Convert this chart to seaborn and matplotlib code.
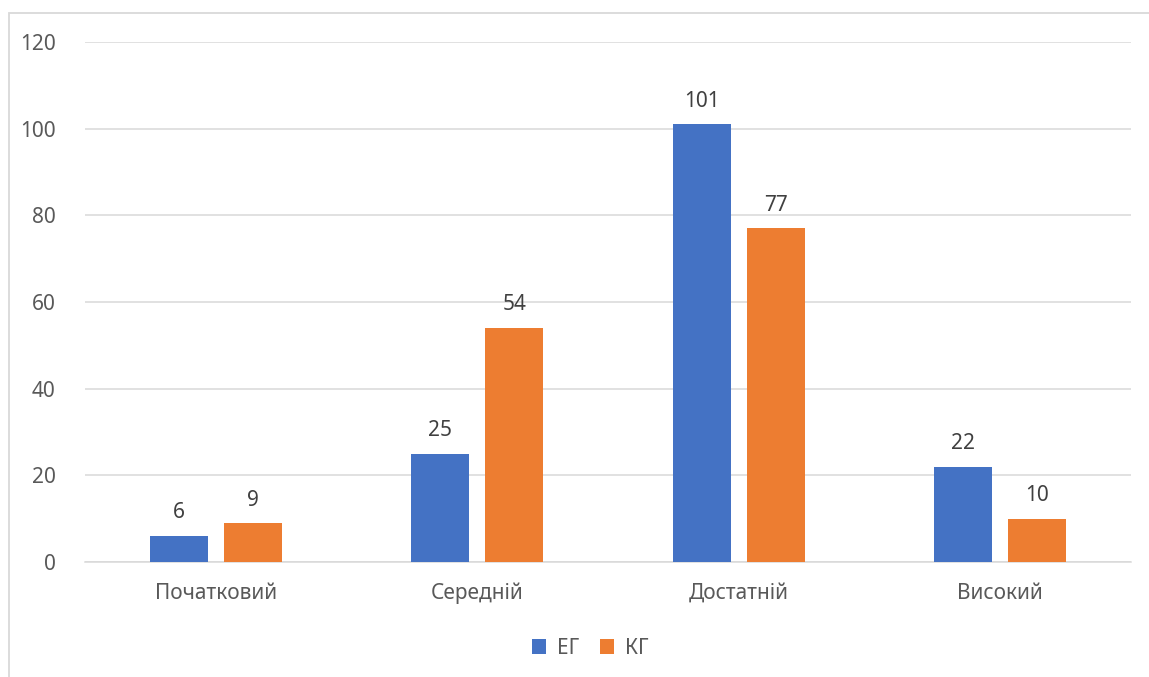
import matplotlib
matplotlib.use("Agg")
import matplotlib.pyplot as plt
from matplotlib.patches import Rectangle
import seaborn as sns
import pandas as pd

categories = ["Початковий", "Середній", "Достатній", "Високий"]
groups = ["ЕГ", "КГ"]
eg_values = [6, 25, 101, 22]
kg_values = [9, 54, 77, 10]
y_ticks = [0, 20, 40, 60, 80, 100, 120]

df = pd.DataFrame({
    "level": categories * 2,
    "group": [groups[0]] * len(categories) + [groups[1]] * len(categories),
    "value": eg_values + kg_values,
})

sns.set_theme(style="white")
plt.rcParams["font.family"] = ["Noto Sans", "DejaVu Sans"]

fig = plt.figure(figsize=(11.49, 6.77), dpi=100)
fig.patch.set_facecolor("white")
ax = fig.add_axes([85 / 1149, 115 / 677, 1046 / 1149, 520 / 677])

palette = {"ЕГ": "#4472C4", "КГ": "#ED7D31"}
sns.barplot(data=df, x="level", y="value", hue="group", order=categories,
            hue_order=groups, palette=palette, width=0.566, gap=0.215,
            saturation=1, linewidth=0, ax=ax, zorder=3)

for container in ax.containers:
    ax.bar_label(container, padding=9, fontsize=15, color="#404040")

ax.set_ylim(0, 120)
ax.set_xlim(-0.5, 3.5)
ax.set_yticks(y_ticks)
ax.yaxis.grid(True, color="#d9d9d9", linewidth=1.1, zorder=0)
ax.set_axisbelow(True)
for side in ["top", "right", "left"]:
    ax.spines[side].set_visible(False)
ax.spines["bottom"].set_color("#d9d9d9")
ax.spines["bottom"].set_linewidth(1.1)
ax.tick_params(axis="both", length=0, labelsize=15, colors="#595959")
ax.tick_params(axis="y", pad=21)
ax.tick_params(axis="x", pad=15)
ax.set_xlabel("")
ax.set_ylabel("")

handles, labels = ax.get_legend_handles_labels()
ax.legend_.remove()
fig.legend(handles, labels, loc="center", bbox_to_anchor=(590 / 1149, 1 - 648 / 677),
           ncol=2, frameon=False, fontsize=15, handlelength=0.7, handleheight=0.7,
           handletextpad=0.5, columnspacing=1.0, labelcolor="#595959")

# chart frame
fig.add_artist(Rectangle((8.5 / 1149, -0.1), 1.2, (677 - 12.5) / 677 + 0.1,
                         transform=fig.transFigure, fill=False,
                         edgecolor="#d9d9d9", linewidth=1.3))

fig.savefig("out.png", dpi=100)
